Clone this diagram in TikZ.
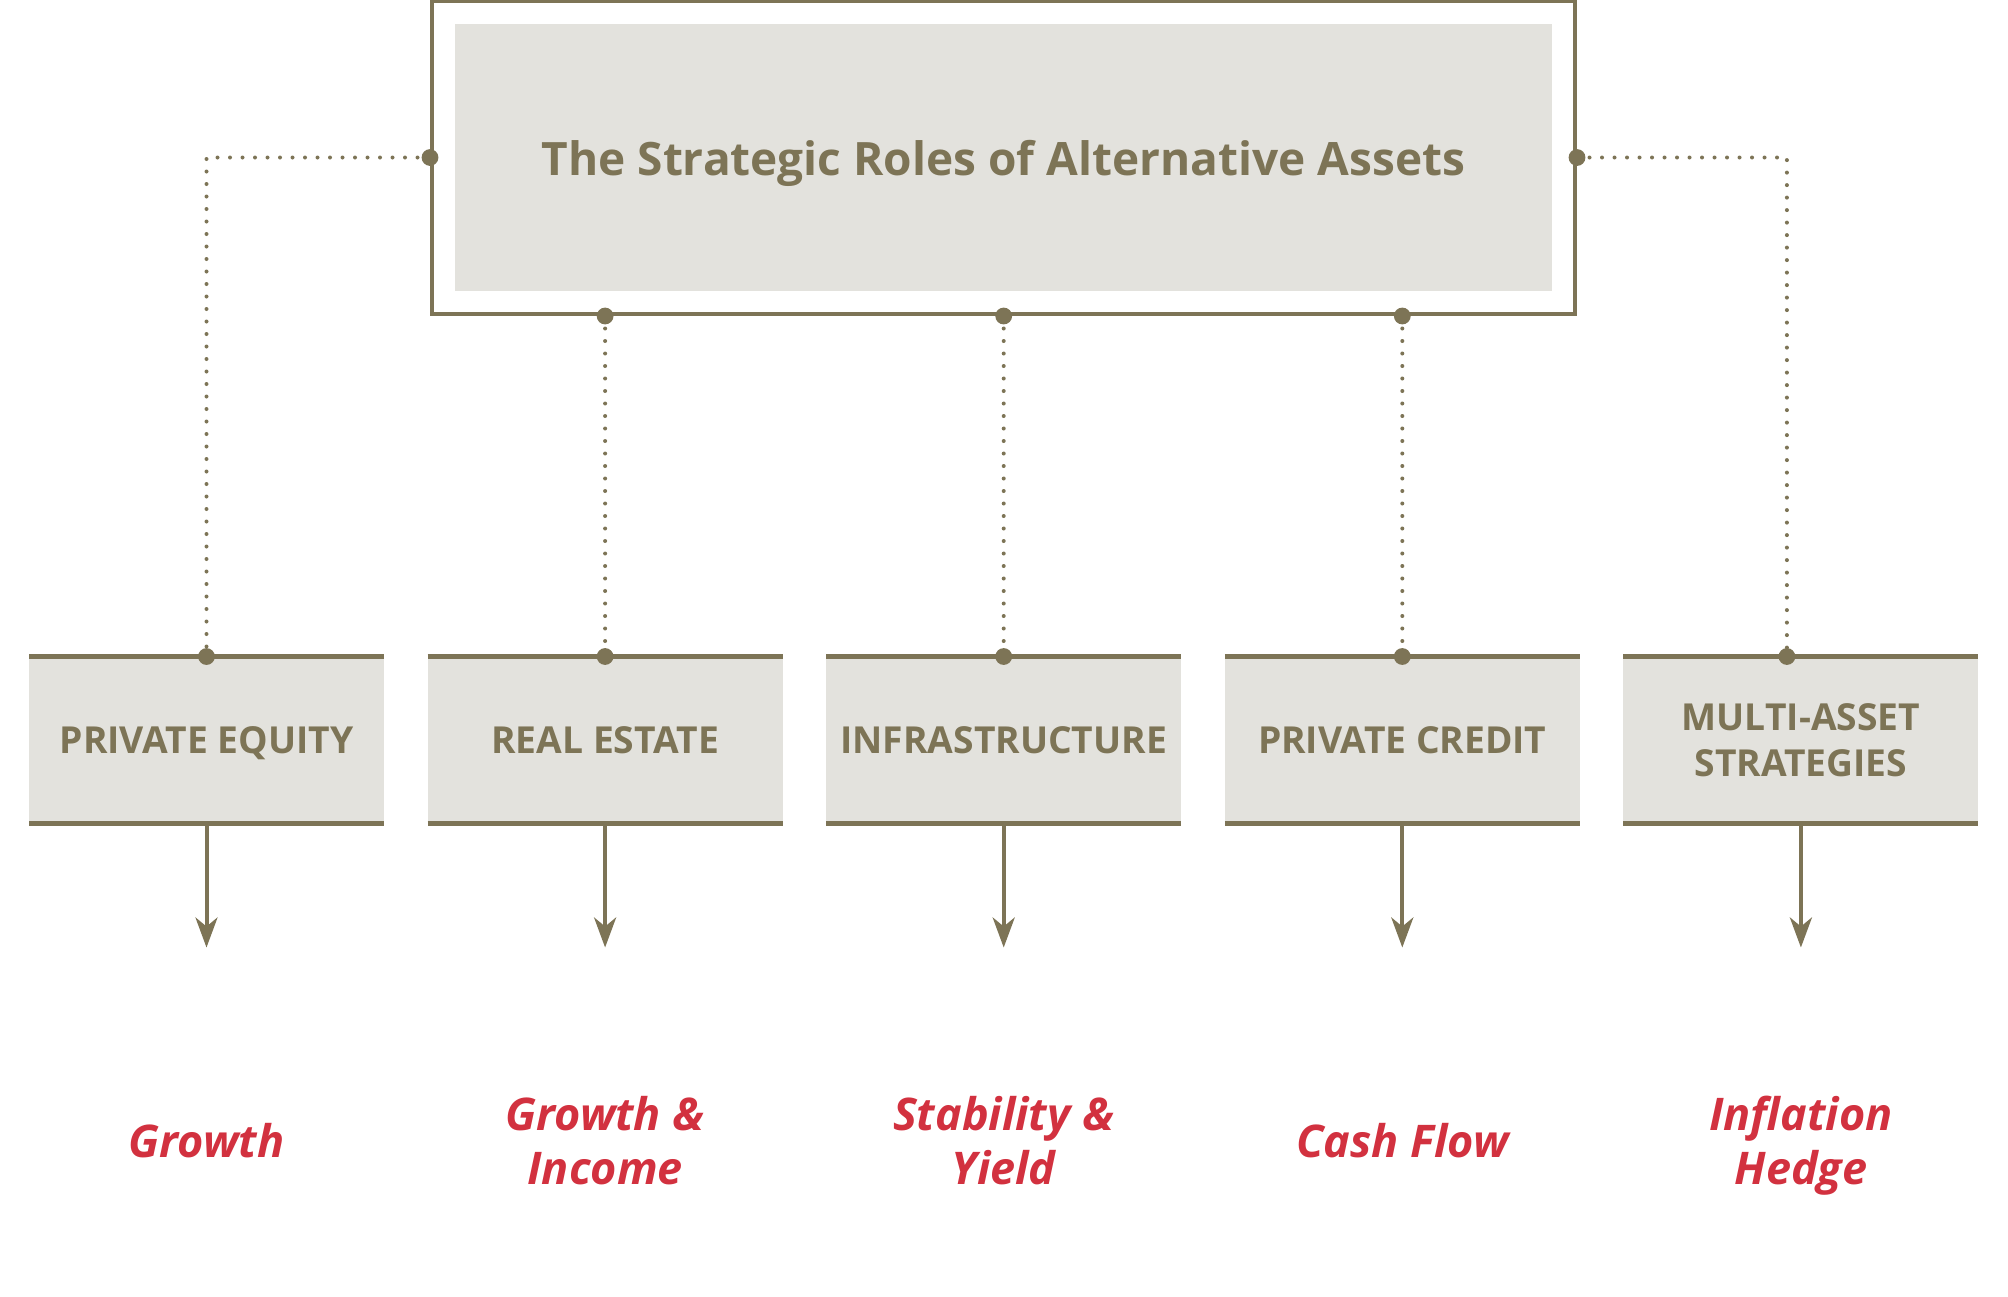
\documentclass[tikz,border=0pt]{standalone}
\usepackage{fontspec}
\setmainfont{Open Sans}
\usetikzlibrary{arrows.meta,positioning,fit}
\definecolor{assetbrown}{HTML}{7D7456}
\definecolor{assetfill}{HTML}{E3E2DD}
\definecolor{rolered}{HTML}{D2313F}

\begin{document}
\begin{tikzpicture}[>={Stealth[length=15pt,width=11pt,inset=4.5pt]},
  headbox/.style={fill=assetfill, text=assetbrown, minimum width=548.5pt, minimum height=133.5pt, inner sep=0pt, outer sep=0pt, text depth=0pt, font=\fontsize{23}{27}\selectfont\bfseries},
  asset/.style={fill=assetfill, text=assetbrown, minimum width=177.5pt, minimum height=83.5pt, inner sep=0pt, outer sep=0pt, align=center, text depth=0pt, font=\fontsize{18.6}{23}\selectfont\bfseries},
  role/.style={text=rolered, align=center, text depth=0pt, font=\fontsize{22.5}{27}\selectfont\bfseries\itshape},
  rule/.style={draw=assetbrown, line width=2.2pt},
  link/.style={draw=assetbrown, line width=2pt, line cap=round, dash pattern=on 0pt off 6.25pt},
  feed/.style={->, draw=assetbrown, line width=2pt}]
\useasboundingbox (0,0) rectangle (1004pt,-648pt);

% title and its frame
\node[headbox] (title) at (501.75pt,-78.75pt) {The Strategic Roles of Alternative Assets};
\node[fit=(title), inner sep=11.5pt, draw=assetbrown, line width=2pt] (frame) {};

% asset classes
\node[asset] (pe) at (103.25pt,-370pt) {PRIVATE EQUITY};
\node[asset, right=21.8pt of pe] (re) {REAL ESTATE};
\node[asset, right=21.8pt of re] (infra) {INFRASTRUCTURE};
\node[asset, right=21.8pt of infra] (pc) {PRIVATE CREDIT};
\node[asset, right=21.8pt of pc] (ms) {MULTI-ASSET\\STRATEGIES};
\foreach \b in {pe,re,infra,pc,ms} {
  \draw[rule] (\b.north west) -- (\b.north east);
  \draw[rule] (\b.south west) -- (\b.south east);
}

% dotted links
\coordinate (ms-in) at ([xshift=-7pt]ms.north);
\path[link] (frame.west) -| (pe.north);
\path[link] (frame.east) -| (ms-in);
\foreach \b in {re,infra,pc}
  \path[link] (frame.south -| \b.north) -- (\b.north);
\foreach \p in {frame.west,frame.east,pe.north,ms-in}
  \fill[assetbrown] (\p) circle (4.2pt);
\foreach \b in {re,infra,pc} {
  \fill[assetbrown] (frame.south -| \b.north) circle (4.2pt);
  \fill[assetbrown] (\b.north) circle (4.2pt);
}

% roles
\foreach \b/\t in {pe/Growth, re/Growth \&\\Income, infra/Stability \&\\Yield, pc/Cash Flow, ms/Inflation\\Hedge} {
  \coordinate[below=62pt of \b.south] (\b-tip);
  \draw[feed] (\b.south) -- (\b-tip);
  \node[role] (\b-role) at ([yshift=-200pt]\b.center) {\t};
}
\end{tikzpicture}
\end{document}
